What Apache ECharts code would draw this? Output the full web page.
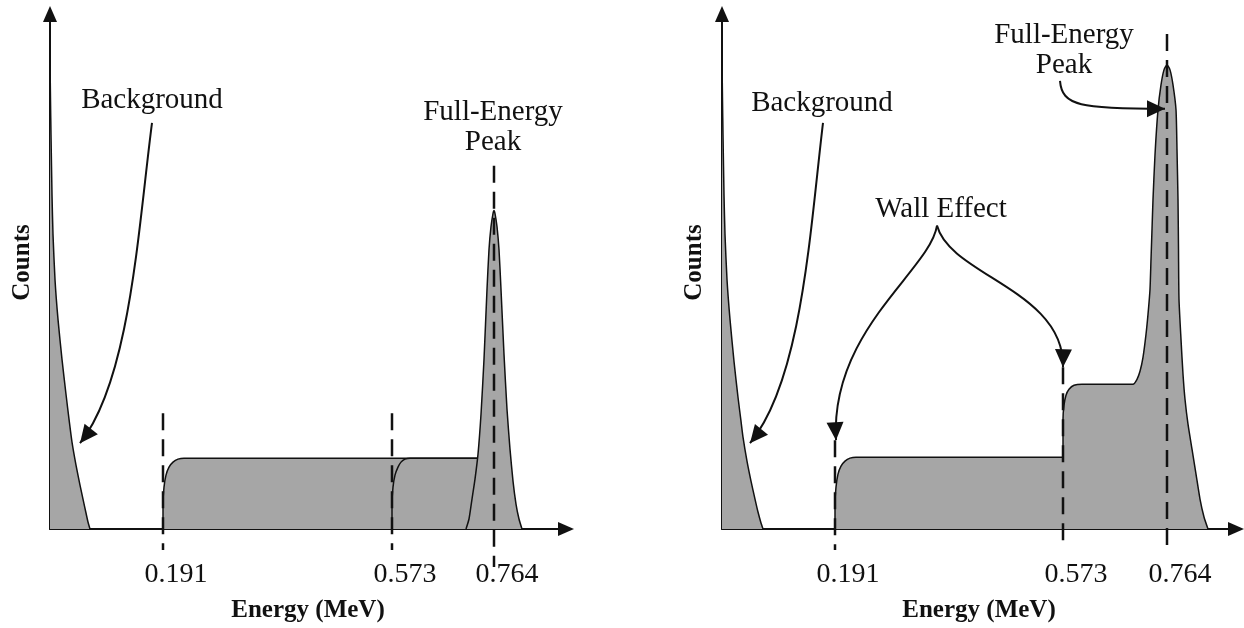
<!DOCTYPE html>
<html>
<head>
<meta charset="utf-8">
<script src="https://cdn.jsdelivr.net/npm/echarts@6/dist/echarts.min.js"></script>
<style>
  html, body { margin: 0; padding: 0; background: #fff; }
  #chart { width: 1244px; height: 628px; }
</style>
</head>
<body>
<div id="chart"></div>
<script>
// schematic spectra, x in channels, y in arbitrary counts
var tickEnergy = ['0.191', '0.573', '0.764'];
var tickChannelA = [113, 342, 444];
var tickChannelB = [113, 341, 445];

var backgroundA = [[0,470],[0.5,430],[1,395],[2,335],[3,295],[5,250],[8,210],[12,170],[16,135],[19,110],[22,87],[26,64],[30,44],[33,30],[36,16],[38,7],[40,0]];
var plateauA = [[113,0],[113,25],[114,42],[116,54],[119,62],[123,67],[128,70],[134,71],[438,71],[438,0]];
var stepA = [[342,0],[342,25],[343,42],[345,54],[348,62],[351,67],[355,70],[360,71],[438,71],[438,0]];
var peakA = [[416,0],[419,10],[422,30],[425,50],[428,75],[431,115],[434,170],[437,240],[439,280],[441,303],[443,316],[444,319],
             [445,316],[447,303],[449,280],[451,240],[454,175],[457,120],[460,80],[463,48],[466,25],[469,10],[472,0]];

var backgroundB = [[0,470],[0.5,430],[1,395],[2,335],[3,295],[5,250],[8,210],[12,168],[16,132],[19,108],[21,92],[25,68],[29,48],[33,30],[36,17],[39,6],[41,0]];
var spectrumB = [[113,0],[113,25],[114,42],[116,55],[119,63],[123,68],[128,71],[134,72],[341,72],[341,110],[342,124],[344,134],
                 [347,140],[352,144],[360,145],[411,145],[415,150],[418,158],[421,172],[424,195],[426,215],[428,240],[429,270],
                 [430,300],[431,330],[433,375],[436,420],[439,445],[442,460],[445,465],[448,460],[451,445],[454,420],[455,380],
                 [456,330],[456.5,280],[457,230],[459,190],[461,155],[463,130],[466,105],[470,80],[474,55],[478,30],[482,12],[486,0]];

// dashed marker lines [channel, top, bottom]
var markersA = [[113,116,-21],[342,116,-21],[444,364,-38]];
var markersB = [[113,89,-21],[341,162,-19],[445,496,-19]];

var serif = '"Liberation Serif", "Times New Roman", serif';
var ink = '#111';
var gray = '#a6a6a6';

// annotation layout (data coords of each panel)
var notes = [
  { grid: 0, text: 'Background', at: [102, 429] },
  { grid: 0, text: 'Full-Energy\nPeak', at: [443, 402] },
  { grid: 1, text: 'Background', at: [100, 426] },
  { grid: 1, text: 'Full-Energy\nPeak', at: [342, 480] },
  { grid: 1, text: 'Wall Effect', at: [219, 320] }
];
var arrows = [
  { grid: 0, from: [102,407], c1: [88,299], c2: [80,149], to: [30,86] },
  { grid: 1, from: [101,407], c1: [88,299], c2: [80,149], to: [28,86] },
  { grid: 1, from: [338,449], c1: [340,424], c2: [358,421], to: [443,421] },
  { grid: 1, from: [215,304], c1: [208,259], c2: [108,199], to: [114,89] },
  { grid: 1, from: [215,304], c1: [228,254], c2: [343,239], to: [341,162] }
];

var chart = echarts.init(document.getElementById('chart'));

function xAxis(gi, max, ticks) {
  return {
    type: 'value', gridIndex: gi, min: 0, max: max,
    name: 'Energy (MeV)', nameLocation: 'middle', nameGap: 69,
    nameTextStyle: { fontFamily: serif, fontWeight: 'bold', fontSize: 25, color: ink },
    axisLine: { show: true, symbol: ['none', 'triangle'], symbolSize: [14, 16], lineStyle: { color: ink, width: 2 } },
    axisTick: { show: false },
    splitLine: { show: false },
    axisLabel: {
      customValues: ticks,
      formatter: function (v) { return tickEnergy[ticks.indexOf(v)]; },
      fontFamily: serif, fontSize: 28, color: ink, margin: 32, padding: [0, 0, 0, 26]
    }
  };
}
function yAxis(gi) {
  return {
    type: 'value', gridIndex: gi, min: 0, max: 516,
    name: 'Counts', nameLocation: 'middle', nameGap: 15, nameRotate: 90,
    nameTextStyle: { fontFamily: serif, fontWeight: 'bold', fontSize: 25, color: ink, padding: [0, 0, 0, 18] },
    axisLine: { show: true, symbol: ['none', 'triangle'], symbolSize: [14, 16], lineStyle: { color: ink, width: 2 } },
    axisTick: { show: false },
    axisLabel: { show: false },
    splitLine: { show: false }
  };
}
function area(gi, data, z) {
  return {
    type: 'line', xAxisIndex: gi, yAxisIndex: gi, data: data, z: z,
    smooth: 0.2, showSymbol: false, silent: true,
    lineStyle: { color: ink, width: 1.5 },
    areaStyle: { color: gray, opacity: 1 }
  };
}
function dashed(gi, m) {
  return {
    type: 'line', xAxisIndex: gi, yAxisIndex: gi, clip: false, z: 10,
    data: [[m[0], m[1]], [m[0], m[2]]],
    showSymbol: false, silent: true,
    lineStyle: { color: ink, width: 2.5, type: [17, 9] }
  };
}

var series = [
  area(0, backgroundA, 2), area(0, plateauA, 3), area(0, stepA, 4), area(0, peakA, 5),
  area(1, backgroundB, 2), area(1, spectrumB, 3)
];
markersA.forEach(function (m) { series.push(dashed(0, m)); });
markersB.forEach(function (m) { series.push(dashed(1, m)); });

chart.setOption({
  animation: false,
  backgroundColor: '#fff',
  grid: [
    { left: 50, top: 14, width: 516, height: 515 },
    { left: 722, top: 14, width: 514, height: 515 }
  ],
  xAxis: [xAxis(0, 516, tickChannelA), xAxis(1, 514, tickChannelB)],
  yAxis: [yAxis(0), yAxis(1)],
  series: series
});

// annotations: labels and curved arrows
function px(gi, p) { return chart.convertToPixel({ gridIndex: gi }, p); }
var elements = [];
notes.forEach(function (n) {
  var p = px(n.grid, n.at);
  elements.push({
    type: 'text', x: p[0], y: p[1], silent: true, z: 20,
    style: {
      text: n.text, fill: ink, font: '29px ' + serif, lineHeight: 30,
      align: 'center', verticalAlign: 'middle', textAlign: 'center', textVerticalAlign: 'middle'
    }
  });
});
arrows.forEach(function (a) {
  var s = px(a.grid, a.from), c1 = px(a.grid, a.c1), c2 = px(a.grid, a.c2), t = px(a.grid, a.to);
  elements.push({
    type: 'bezierCurve', silent: true, z: 20,
    shape: { x1: s[0], y1: s[1], cpx1: c1[0], cpy1: c1[1], cpx2: c2[0], cpy2: c2[1], x2: t[0], y2: t[1] },
    style: { stroke: ink, lineWidth: 2, fill: 'none' }
  });
  var dx = t[0] - c2[0], dy = t[1] - c2[1];
  var len = Math.sqrt(dx * dx + dy * dy);
  dx /= len; dy /= len;
  var L = 18, W = 17;
  var bx = t[0] - dx * L, by = t[1] - dy * L;
  elements.push({
    type: 'polygon', silent: true, z: 20,
    shape: { points: [[t[0], t[1]], [bx - dy * W / 2, by + dx * W / 2], [bx + dy * W / 2, by - dx * W / 2]] },
    style: { fill: ink }
  });
});
chart.setOption({ graphic: elements });
</script>
</body>
</html>
